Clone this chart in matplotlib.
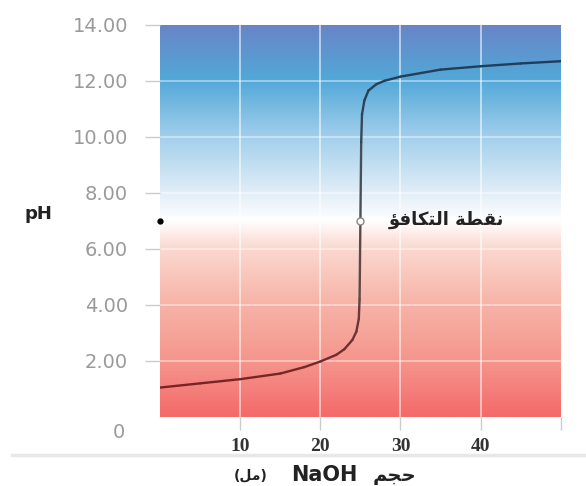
import numpy as np
import matplotlib
matplotlib.use("Agg")
import matplotlib.pyplot as plt
from matplotlib.colors import LinearSegmentedColormap
from matplotlib.collections import LineCollection
from matplotlib.lines import Line2D

# titration curve
volume = [0, 5, 10, 15, 18, 20, 22, 23, 24, 24.5, 24.8, 24.9, 25.0,
          25.1, 25.2, 25.5, 26, 27, 28, 30, 35, 40, 45, 50]
ph = [1.05, 1.2, 1.35, 1.55, 1.78, 1.98, 2.22, 2.42, 2.75, 3.05, 3.5, 4.2, 7.0,
      9.8, 10.8, 11.3, 11.65, 11.88, 12.0, 12.15, 12.4, 12.52, 12.62, 12.7]

equiv_vol, equiv_ph = 25, 7.0
xticks = [10, 20, 30, 40, 50]
xticklabels = ["10", "20", "30", "40", ""]
yticks = [2, 4, 6, 8, 10, 12, 14]
yticklabels = ["2.00", "4.00", "6.00", "8.00", "10.00", "12.00", "14.00"]

# arabic in visual order, presentation forms
equiv_label = "\uFE86\uFED3\uFE8E\uFEDC\uFE98\uFEDF\uFE8D \uFE94\uFEC4\uFED8\uFEE7"
vol_word = "\uFEE2\uFEA0\uFEA3"
unit_word = "(\uFEDE\uFEE3)"

fig = plt.figure(figsize=(5.86, 4.86), dpi=100)
ax = fig.add_axes([0.273, 0.142, 0.684, 0.807])

# background gradient
bg = LinearSegmentedColormap.from_list("bg", [
    (0.0, "#f46a6a"), (0.14, "#f5958c"), (0.29, "#f7b4a8"), (0.43, "#fbd8d0"),
    (0.5, "#ffffff"), (0.57, "#e2eef8"), (0.71, "#a4d0ec"), (0.86, "#52a8d8"),
    (1.0, "#6a84c6")])
grad = np.linspace(0, 1, 256).reshape(-1, 1)
ax.imshow(grad, cmap=bg, origin="lower", aspect="auto",
          extent=[0, 50, 0, 14], zorder=0)

ax.set_xlim(0, 50)
ax.set_ylim(0, 14)
for v in [10, 20, 30, 40]:
    ax.axvline(v, color="white", lw=1.3, alpha=0.6, zorder=1)
for v in [2, 4, 6, 8, 10, 12]:
    ax.axhline(v, color="white", lw=1.3, alpha=0.45, zorder=1)

# curve, coloured by pH
pts = np.column_stack([volume, ph])
segs = np.stack([pts[:-1], pts[1:]], axis=1)
line_cmap = LinearSegmentedColormap.from_list(
    "ln", ["#7a2222", "#555555", "#1c3b5a"])
mid = (np.array(ph[:-1]) + np.array(ph[1:])) / 2
lc = LineCollection(segs, cmap=line_cmap, norm=plt.Normalize(1, 13),
                    linewidth=1.7, capstyle="round", joinstyle="round", zorder=3)
lc.set_array(mid)
ax.add_collection(lc)

ax.plot(equiv_vol, equiv_ph, "o", ms=5, mfc="white", mec="#888888",
        mew=1, zorder=4)
ax.plot(0, equiv_ph, "o", ms=3.5, color="black", clip_on=False, zorder=4)
ax.text(28.5, equiv_ph + 0.05, equiv_label, fontsize=13, fontweight="bold",
        color="#222222", va="center", ha="left", family="DejaVu Sans")

for s in ax.spines.values():
    s.set_visible(False)

ax.set_yticks(yticks)
ax.set_yticklabels(yticklabels)
ax.set_xticks(xticks)
ax.set_xticklabels(xticklabels)
ax.tick_params(axis="y", direction="out", length=11, width=1,
               color="#cccccc", labelcolor="#9a9a9a", labelsize=14, pad=12)
ax.tick_params(axis="x", direction="out", length=9, width=1,
               color="#cccccc", labelcolor="#333333", labelsize=12, pad=6)
for lbl in ax.get_xticklabels():
    lbl.set_family("Liberation Serif")
    lbl.set_fontweight("bold")
    lbl.set_fontsize(14)

fig.text(125 / 586, 1 - 432 / 486, "0", ha="right", va="center",
         fontsize=14, color="#9a9a9a")
fig.text(38 / 586, 1 - 214 / 486, "pH", ha="center", va="center",
         fontsize=13, fontweight="bold", color="#222222")

fig.add_artist(Line2D([0.02, 1.0], [1 - 455 / 486] * 2, color="#e8e8e8",
                      lw=2.5, transform=fig.transFigure))

ylab = 1 - 475 / 486
fig.text(251 / 586, ylab, unit_word, ha="center", va="center",
         fontsize=10, fontweight="bold", color="#222222")
fig.text(324 / 586, ylab, "NaOH", ha="center", va="center",
         fontsize=15, fontweight="bold", color="#222222")
fig.text(394 / 586, ylab, vol_word, ha="center", va="center",
         fontsize=14, fontweight="bold", color="#222222")

fig.savefig("out.png", dpi=100)
